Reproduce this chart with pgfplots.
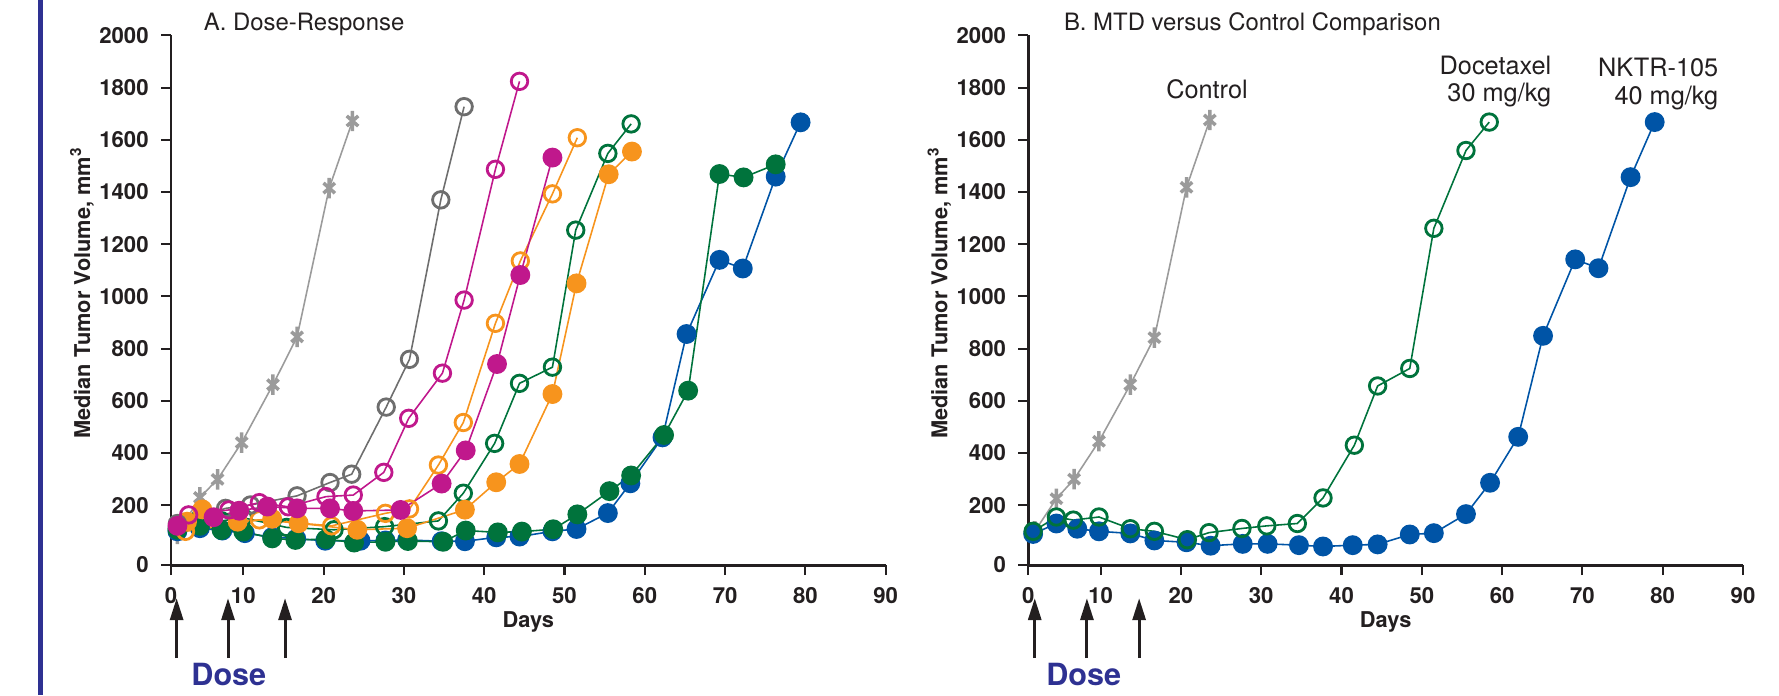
\documentclass[border=0pt]{standalone}
\usepackage{fontspec}
\setmainfont{TeX Gyre Heros}
\usepackage{pgfplots}
\pgfplotsset{compat=1.18}
\usetikzlibrary{arrows.meta}
\definecolor{ctrlgray}{HTML}{9B9B9B}
\definecolor{dkgray}{HTML}{6E6E6E}
\definecolor{magenta2}{HTML}{C0188C}
\definecolor{orange2}{HTML}{F7941D}
\definecolor{green2}{HTML}{00733C}
\definecolor{blue2}{HTML}{0054A6}
\definecolor{navy}{HTML}{2E3192}
\definecolor{ink}{HTML}{231F20}
\pgfplotsset{
  panel/.style={
    width=71.47mm, height=52.96mm, scale only axis,
    xmin=1, xmax=90, ymin=-29, ymax=2000,
    axis lines=left, axis line style={-, line width=0.85pt, color=ink},
    xtick={1,10,20,30,40,50,60,70,80,90},
    xticklabels={0,10,20,30,40,50,60,70,80,90},
    ytick={-29,200,400,600,800,1000,1200,1400,1600,1800,2000},
    yticklabels={0,200,400,600,800,1000,1200,1400,1600,1800,2000},
    tick align=outside, major tick length=1mm,
    tick style={line width=0.6pt, color=ink},
    tick label style={font=\fontsize{6.3}{7.5}\selectfont\bfseries, text=ink},
    xlabel={Days},
    ylabel={Median Tumor Volume, mm\textsuperscript{3}},
    label style={font=\fontsize{6.2}{7.5}\selectfont\bfseries, text=ink},
    xlabel style={at={(rel axis cs:0.5,0)}, anchor=center, yshift=-5.67mm},
    ylabel style={at={(rel axis cs:0,0.514)}, anchor=center, yshift=8.9mm},
    clip=false,
  },
  ctrl/.style={color=ctrlgray, line width=0.45pt, mark=asterisk, mark size=2.9pt, mark options={xscale=0.65, line width=1pt}},
  opn/.style={color=#1, line width=0.45pt, mark=o, mark size=2.35pt, mark options={line width=0.8pt}},
  fil/.style={color=#1, line width=0.45pt, mark=*, mark size=2.6pt},
}
\begin{document}
\begin{tikzpicture}
\useasboundingbox (0,0) rectangle (177.9mm,69.5mm);
\fill[navy] (3.75mm,0) rectangle (4.3mm,69.5mm);

% ---------------- Panel A ----------------
\begin{axis}[panel, at={(17.1mm,13.0mm)}, anchor=south west]
\addplot[ctrl] coordinates {(1.8,90) (4.6,230) (6.8,299) (9.8,440) (13.7,662) (16.7,845) (20.7,1415) (23.6,1672)};
\addplot[fil=blue2] coordinates {(1.8,100) (4.6,112) (7.4,103) (10.2,93) (13.6,78) (16.6,72) (20.2,64) (24.6,64) (27.7,65) (30.4,67) (34.7,62) (37.6,62) (41.5,77) (44.4,80) (48.5,100) (51.5,109) (55.4,170) (58.2,284) (62.2,460) (65.2,856) (69.3,1140) (72.2,1107) (76.3,1459) (79.4,1667)};
\addplot[fil=green2] coordinates {(1.8,110) (4.6,121) (7.3,105) (10.0,99) (13.6,73) (16.5,67) (20.3,70) (23.8,57) (27.7,60) (30.5,63) (34.9,60) (37.7,103) (41.7,96) (44.7,99) (48.6,108) (51.6,165) (55.6,254) (58.3,314) (62.4,469) (65.4,639) (69.3,1469) (72.3,1456) (76.3,1506)};
\addplot[opn=green2] coordinates {(1.8,105) (4.6,150) (7.3,140) (10,152) (15.4,115) (21.3,106) (27.6,118) (34.3,140) (37.4,246) (41.3,437) (44.4,667) (48.5,729) (51.4,1254) (55.4,1548) (58.3,1661)};
\addplot[fil=orange2] coordinates {(3.0,137) (4.9,184) (9.3,137) (13.6,148) (16.9,131) (24.2,106) (30.4,112) (37.6,183) (41.5,288) (44.4,358) (48.5,626) (51.5,1050) (55.5,1468) (58.4,1555)};
\addplot[opn=orange2] coordinates {(2.8,100) (12.0,144) (21.0,121) (27.7,169) (30.7,186) (34.3,354) (37.4,517) (41.4,897) (44.5,1136) (48.5,1393) (51.6,1608)};
\addplot[opn=dkgray] coordinates {(1.8,130) (7.8,188) (10.9,201) (16.7,236) (20.8,287) (23.5,319) (27.8,576) (30.7,759) (34.6,1370) (37.5,1727)};
\addplot[fil=magenta2] coordinates {(1.8,121) (6.3,154) (9.5,179) (13.0,195) (16.7,188) (20.8,188) (23.7,178) (29.6,182) (34.7,283) (37.7,410) (41.6,741) (44.5,1082) (48.5,1532)};
\addplot[opn=magenta2] coordinates {(3.2,163) (8.2,182) (12.0,210) (15.6,194) (20.3,233) (23.7,239) (27.5,326) (30.6,533) (34.8,706) (37.5,986) (41.4,1487) (44.4,1824)};
\node[anchor=west, inner sep=0pt, font=\fontsize{6.8}{8}\selectfont, text=ink] at (rel axis cs:0.045,1.0217) {A. Dose-Response};
\pgfplotsinvokeforeach{1.7,8.1,15.2}{
  \draw[-{Triangle[length=2.2mm,width=1.3mm]}, line width=0.3mm, ink] (axis cs:#1,-386) -- (axis cs:#1,-156);
}
\node[font=\fontsize{8.7}{10}\selectfont\bfseries, text=navy] at (axis cs:8.2,-450) {Dose};
\end{axis}

% ---------------- Panel B ----------------
\begin{axis}[panel, at={(102.83mm,13.0mm)}, anchor=south west]
\addplot[ctrl] coordinates {(1.8,100) (4.5,225) (6.7,300) (9.8,445) (13.7,662) (16.7,842) (20.7,1418) (23.6,1676)};
\addplot[fil=blue2] coordinates {(1.6,90) (4.5,130) (7.1,110) (9.8,100) (13.7,92) (16.7,65) (20.7,58) (23.7,45) (27.7,52) (30.8,52) (34.7,47) (37.7,42) (41.4,47) (44.5,50) (48.5,88) (51.5,93) (55.5,166) (58.5,286) (62,462) (65.1,849) (69.1,1142) (72,1108) (76,1457) (79,1668)};
\addplot[opn=green2] coordinates {(1.6,100) (4.5,155) (6.6,143) (9.8,155) (13.7,110) (16.7,100) (20.8,68) (23.5,95) (27.6,111) (30.7,121) (34.5,130) (37.7,228) (41.6,430) (44.5,657) (48.5,724) (51.5,1261) (55.5,1559) (58.4,1668)};
\node[anchor=west, inner sep=0pt, font=\fontsize{6.8}{8}\selectfont, text=ink] at (rel axis cs:0.049,1.0217) {B. MTD versus Control Comparison};
\node[font=\fontsize{7.2}{8.4}\selectfont, text=ink] at (axis cs:23.25,1793) {Control};
\node[anchor=east, align=right, inner sep=0pt, font=\fontsize{7.2}{7.9}\selectfont, text=ink] at (axis cs:66.2,1823) {Docetaxel\\30 mg/kg};
\node[anchor=east, align=right, inner sep=0pt, font=\fontsize{7.2}{7.9}\selectfont, text=ink] at (axis cs:87.0,1814) {NKTR-105\\40 mg/kg};
\pgfplotsinvokeforeach{1.8,8.3,14.8}{
  \draw[-{Triangle[length=2.2mm,width=1.3mm]}, line width=0.3mm, ink] (axis cs:#1,-386) -- (axis cs:#1,-156);
}
\node[font=\fontsize{8.7}{10}\selectfont\bfseries, text=navy] at (axis cs:7.9,-450) {Dose};
\end{axis}
\end{tikzpicture}
\end{document}
